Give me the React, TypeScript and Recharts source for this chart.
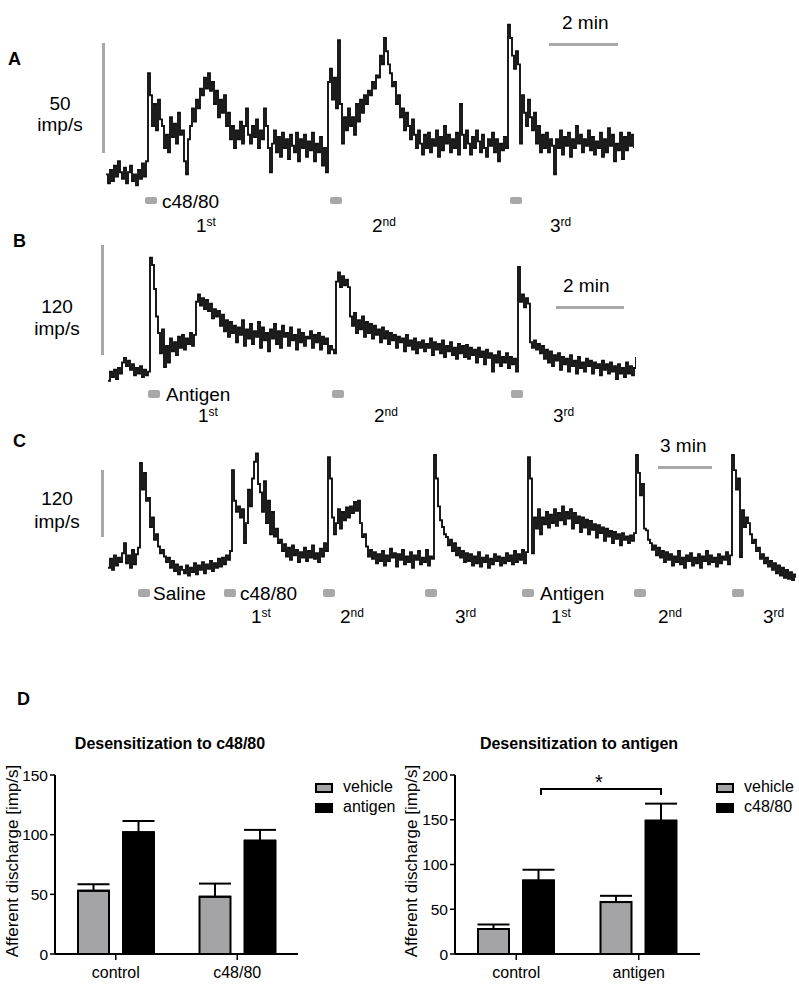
import React from "react";
import { LineChart, Line, BarChart, Bar, ErrorBar, XAxis, YAxis } from "recharts";

// firing-rate traces (imp/s), one bin every 2 px of recording
const traceA = [
  8, 4, 10, 5, 12, 7, 14, 9, 6, 11, 4, 9, 12, 5, 8, 3, 10, 6, 13, 7,
  14, 54, 44, 30, 40, 28, 42, 33, 30, 20, 26, 18, 34, 25, 31, 22, 36, 26, 28, 14,
  8, 24, 30, 38, 32, 42, 38, 47, 44, 52, 47, 54, 46, 50, 40, 46, 34, 42, 36, 44,
  30, 36, 24, 30, 20, 28, 24, 32, 22, 30, 38, 26, 22, 30, 25, 33, 20, 28, 24, 38,
  30, 20, 9, 22, 28, 18, 25, 16, 27, 20, 24, 15, 26, 21, 18, 27, 14, 24, 20, 26,
  16, 23, 19, 27, 14, 22, 18, 25, 12, 20, 9, 50, 56, 42, 52, 38, 69, 40, 22, 34,
  28, 38, 30, 34, 26, 40, 32, 42, 36, 44, 40, 46, 44, 50, 47, 53, 52, 62, 58, 70,
  64, 58, 54, 48, 50, 40, 44, 34, 38, 28, 36, 30, 24, 33, 26, 20, 28, 22, 17, 26,
  20, 27, 18, 24, 21, 28, 16, 25, 19, 30, 22, 26, 18, 24, 20, 27, 17, 40, 26, 20,
  28, 22, 17, 25, 20, 28, 23, 18, 26, 20, 16, 24, 21, 27, 18, 24, 14, 22, 19, 25,
  20, 76, 70, 62, 56, 64, 58, 22, 44, 36, 30, 42, 34, 28, 36, 22, 30, 18, 26, 20,
  27, 18, 24, 21, 8, 24, 20, 28, 17, 25, 21, 27, 16, 24, 20, 30, 22, 26, 18, 24,
  21, 28, 19, 25, 17, 23, 20, 27, 16, 24, 18, 29, 21, 26, 14, 22, 19, 27, 15, 25,
  19, 27, 21, 26, 20,
];

const traceB = [
  10, 20, 14, 22, 12, 24, 18, 30, 35, 26, 32, 22, 28, 16, 24, 18, 26, 14, 22, 16,
  20, 144, 136, 110, 80, 62, 40, 66, 25, 48, 30, 56, 42, 52, 38, 58, 46, 60, 44, 56,
  50, 62, 48, 60, 96, 104, 92, 100, 88, 98, 86, 94, 78, 88, 80, 86, 70, 82, 64, 76,
  58, 74, 62, 70, 52, 68, 60, 76, 48, 66, 56, 72, 50, 64, 58, 74, 46, 68, 54, 62,
  42, 66, 56, 72, 50, 64, 46, 70, 58, 62, 48, 68, 54, 60, 44, 66, 52, 62, 48, 58,
  56, 64, 46, 60, 52, 62, 44, 58, 50, 56, 40, 48, 44, 40, 118, 128, 112, 124, 114, 120,
  112, 80, 70, 84, 62, 76, 66, 80, 58, 74, 62, 72, 56, 70, 60, 66, 52, 68, 56, 64,
  50, 62, 54, 60, 46, 58, 52, 56, 42, 60, 48, 54, 44, 56, 40, 52, 46, 54, 42, 50,
  46, 56, 38, 52, 44, 50, 40, 54, 36, 48, 42, 52, 38, 46, 34, 50, 40, 48, 36, 49,
  34, 46, 38, 44, 30, 46, 36, 42, 28, 44, 35, 40, 20, 38, 30, 42, 26, 36, 30, 40,
  24, 36, 28, 34, 20, 134, 96, 104, 90, 100, 94, 52, 46, 54, 44, 50, 40, 48, 34, 44,
  30, 42, 26, 38, 32, 40, 22, 36, 28, 34, 20, 38, 26, 32, 18, 36, 24, 30, 20, 34,
  26, 32, 18, 30, 24, 28, 16, 32, 22, 28, 18, 30, 20, 26, 12, 28, 18, 24, 14, 30,
  18, 26, 16, 24, 36,
];

const traceC = [
  40, 56, 36, 62, 44, 58, 50, 66, 84, 48, 62, 40, 72, 46, 64, 76, 228, 180, 210, 160,
  165, 113, 130, 90, 100, 78, 66, 72, 60, 50, 58, 40, 52, 34, 46, 28, 42, 36, 30, 44,
  26, 40, 32, 48, 28, 44, 36, 50, 30, 46, 38, 52, 34, 48, 40, 56, 42, 58, 46, 62,
  54, 70, 215, 160, 140, 150, 130, 145, 84, 120, 180, 150, 200, 230, 245, 190, 175, 140, 195, 120,
  160, 100, 140, 96, 110, 84, 90, 70, 82, 60, 76, 54, 80, 62, 72, 50, 68, 58, 76, 52,
  70, 58, 80, 56, 66, 50, 74, 60, 84, 70, 238, 200, 130, 100, 120, 145, 110, 140, 125, 148,
  130, 150, 138, 158, 142, 160, 120, 95, 100, 78, 60, 72, 56, 68, 48, 64, 52, 70, 44, 62,
  52, 74, 58, 66, 42, 64, 54, 72, 46, 60, 50, 68, 40, 62, 54, 70, 46, 58, 50, 72,
  44, 60, 56, 242, 200, 150, 125, 113, 100, 95, 80, 90, 70, 84, 62, 76, 58, 70, 50, 66,
  52, 64, 44, 60, 48, 68, 42, 58, 50, 62, 40, 56, 46, 64, 52, 60, 44, 58, 48, 66,
  52, 62, 46, 70, 50, 64, 54, 72, 48, 68, 238, 200, 66, 130, 110, 145, 100, 130, 118, 140,
  112, 135, 120, 145, 115, 138, 125, 150, 118, 140, 128, 145, 110, 138, 120, 132, 104, 130, 112, 126,
  100, 124, 108, 118, 94, 116, 102, 112, 88, 110, 96, 106, 84, 104, 92, 100, 80, 102, 90, 96,
  84, 98, 88, 102, 242, 210, 170, 190, 110, 107, 90, 84, 72, 80, 62, 76, 58, 70, 50, 68,
  54, 64, 44, 60, 50, 70, 46, 58, 40, 62, 52, 66, 44, 58, 48, 64, 40, 60, 52, 70,
  46, 62, 50, 58, 42, 64, 48, 60, 54, 68, 46, 62, 242, 215, 180, 200, 59, 143, 113, 130,
  120, 100, 84, 90, 70, 76, 56, 64, 48, 58, 42, 52, 36, 48, 30, 44, 26, 40, 22, 36,
  20, 32, 18, 28, 22,
];

// panel D
const groupsC48 = ["control", "c48/80"];
const vehicleC48 = [53, 48];
const vehicleC48Err = [5.5, 11];
const antigenC48 = [102, 95];
const antigenC48Err = [9.5, 9];

const groupsAg = ["control", "antigen"];
const vehicleAg = [28, 58];
const vehicleAgErr = [5, 7];
const c48Ag = [82, 149];
const c48AgErr = [12, 19];

const GRAY = "#a8a8a8";
const BAR_GRAY = "#a4a4a7";
const FONT = "'Liberation Sans', Arial, Helvetica, sans-serif";

function Txt({ x, y, size = 19, bold = false, anchor = "start", children }: any) {
  return (
    <div
      style={{
        position: "absolute",
        left: x,
        top: y - 0.85 * size,
        fontSize: size,
        lineHeight: `${size}px`,
        fontWeight: bold ? "bold" : "normal",
        whiteSpace: "nowrap",
        transform: anchor === "middle" ? "translateX(-50%)" : undefined,
      }}
    >
      {children}
    </div>
  );
}

function Ord({ x, y, n, suf }: any) {
  return (
    <Txt x={x} y={y}>
      {n}
      <span style={{ fontSize: 12, lineHeight: "12px", position: "relative", top: -6 }}>{suf}</span>
    </Txt>
  );
}

function Box({ x, y, w, h, color = GRAY, r = 2 }: any) {
  return (
    <div style={{ position: "absolute", left: x, top: y, width: w, height: h, background: color, borderRadius: r }} />
  );
}

function Trace({ values, left, top, width, height, max }: any) {
  const data = values.map((v: number, i: number) => ({ t: i, v }));
  return (
    <div style={{ position: "absolute", left, top }}>
      <LineChart width={width} height={height} data={data} margin={{ top: 0, right: 0, bottom: 0, left: 0 }}>
        <XAxis dataKey="t" type="number" domain={[0, values.length - 1]} hide />
        <YAxis domain={[0, max]} hide />
        <Line
          type="stepAfter"
          dataKey="v"
          stroke="#111"
          strokeWidth={1.9}
          dot={false}
          isAnimationActive={false}
        />
      </LineChart>
    </div>
  );
}

function Desens({ left, groups, a, aErr, b, bErr, max, ticks, rightMargin }: any) {
  const data = groups.map((g: string, i: number) => ({
    g,
    a: a[i],
    aErr: [0, aErr[i]],
    b: b[i],
    bErr: [0, bErr[i]],
  }));
  return (
    <div style={{ position: "absolute", left, top: 760 }}>
      <BarChart
        width={300}
        height={224}
        data={data}
        margin={{ top: 15, right: rightMargin, bottom: 0, left: 0 }}
        barSize={31}
        barGap={14}
      >
        <XAxis
          dataKey="g"
          height={30}
          interval={0}
          tickSize={6}
          tickMargin={7}
          tick={{ fill: "#000", fontSize: 16 }}
          axisLine={{ stroke: "#000", strokeWidth: 2 }}
          tickLine={{ stroke: "#000", strokeWidth: 1.5 }}
        />
        <YAxis
          width={55}
          domain={[0, max]}
          ticks={ticks}
          tickSize={5}
          tickMargin={2}
          tick={{ fill: "#000", fontSize: 15.5 }}
          axisLine={{ stroke: "#000", strokeWidth: 2 }}
          tickLine={{ stroke: "#000", strokeWidth: 1.5 }}
        />
        <Bar dataKey="a" fill={BAR_GRAY} stroke="#000" strokeWidth={2} isAnimationActive={false}>
          <ErrorBar dataKey="aErr" width={16} stroke="#000" strokeWidth={2} direction="y" />
        </Bar>
        <Bar dataKey="b" fill="#000" stroke="#000" strokeWidth={2} isAnimationActive={false}>
          <ErrorBar dataKey="bErr" width={16} stroke="#000" strokeWidth={2} direction="y" />
        </Bar>
      </BarChart>
    </div>
  );
}

function LegendItem({ x, y, color, label }: any) {
  return (
    <>
      <div
        style={{
          position: "absolute",
          left: x,
          top: y,
          width: 18,
          height: 10,
          background: color,
          border: "2px solid #000",
          boxSizing: "border-box",
        }}
      />
      <Txt x={x + 28} y={y + 10} size={16}>
        {label}
      </Txt>
    </>
  );
}

function YLabel({ cx, cy }: any) {
  return (
    <div
      style={{
        position: "absolute",
        left: cx,
        top: cy,
        fontSize: 17,
        lineHeight: "17px",
        whiteSpace: "nowrap",
        transform: "translate(-50%, -50%) rotate(-90deg)",
      }}
    >
      Afferent discharge [imp/s]
    </div>
  );
}

export default function App() {
  return (
    <div
      style={{
        position: "absolute",
        left: 0,
        top: 0,
        width: 799,
        height: 986,
        background: "#fff",
        overflow: "hidden",
        fontFamily: FONT,
        color: "#000",
      }}
    >
      {/* A */}
      <Txt x={8} y={65} size={18} bold>A</Txt>
      <Box x={102} y={43} w={3} h={110} r={0} />
      <Txt x={60} y={110} anchor="middle">50</Txt>
      <Txt x={60} y={131} anchor="middle">imp/s</Txt>
      <Trace values={traceA} left={106} top={16} width={528} height={176} max={80} />
      <Txt x={562} y={29}>2 min</Txt>
      <Box x={549} y={43} w={69} h={3} r={0} />
      <Box x={145} y={197} w={12} h={7} />
      <Box x={330} y={197} w={12} h={7} />
      <Box x={510} y={197} w={12} h={7} />
      <Txt x={162} y={208}>c48/80</Txt>
      <Ord x={196} y={232} n="1" suf="st" />
      <Ord x={372} y={232} n="2" suf="nd" />
      <Ord x={550} y={232} n="3" suf="rd" />

      {/* B */}
      <Txt x={13} y={247} size={18} bold>B</Txt>
      <Box x={101} y={245} w={3} h={110} r={0} />
      <Txt x={57} y={313} anchor="middle">120</Txt>
      <Txt x={57} y={335} anchor="middle">imp/s</Txt>
      <Trace values={traceB} left={108} top={243} width={528} height={147} max={160} />
      <Txt x={563} y={292}>2 min</Txt>
      <Box x={556} y={306} w={68} h={3} r={0} />
      <Box x={148} y={390} w={12} h={8} />
      <Box x={332} y={390} w={12} h={8} />
      <Box x={511} y={390} w={12} h={8} />
      <Txt x={166} y={401}>Antigen</Txt>
      <Ord x={198} y={422} n="1" suf="st" />
      <Ord x={374} y={422} n="2" suf="nd" />
      <Ord x={553} y={422} n="3" suf="rd" />

      {/* C */}
      <Txt x={13} y={447} size={18} bold>C</Txt>
      <Box x={101} y={470} w={3} h={67} r={0} />
      <Txt x={57} y={505} anchor="middle">120</Txt>
      <Txt x={57} y={528} anchor="middle">imp/s</Txt>
      <Trace values={traceC} left={108} top={445} width={688} height={145} max={260} />
      <Txt x={660} y={452}>3 min</Txt>
      <Box x={658} y={466} w={54} h={3} r={0} />
      <Box x={138} y={589} w={12} h={8} />
      <Box x={224} y={589} w={12} h={8} />
      <Box x={323} y={589} w={12} h={8} />
      <Box x={425} y={589} w={12} h={8} />
      <Box x={522} y={589} w={12} h={8} />
      <Box x={634} y={589} w={12} h={8} />
      <Box x={732} y={589} w={12} h={8} />
      <Txt x={153} y={600}>Saline</Txt>
      <Txt x={240} y={600}>c48/80</Txt>
      <Txt x={540} y={600}>Antigen</Txt>
      <Ord x={251} y={623} n="1" suf="st" />
      <Ord x={340} y={623} n="2" suf="nd" />
      <Ord x={455} y={623} n="3" suf="rd" />
      <Ord x={551} y={623} n="1" suf="st" />
      <Ord x={658} y={623} n="2" suf="nd" />
      <Ord x={763} y={623} n="3" suf="rd" />

      {/* D */}
      <Txt x={17} y={705} size={18} bold>D</Txt>
      <Txt x={170} y={750} size={16} bold anchor="middle">Desensitization to c48/80</Txt>
      <Txt x={579} y={750} size={16} bold anchor="middle">Desensitization to antigen</Txt>
      <YLabel cx={12} cy={861} />
      <YLabel cx={411} cy={861} />
      <Desens
        left={0}
        groups={groupsC48}
        a={vehicleC48}
        aErr={vehicleC48Err}
        b={antigenC48}
        bErr={antigenC48Err}
        max={150}
        ticks={[0, 50, 100, 150]}
        rightMargin={2}
      />
      <Desens
        left={400}
        groups={groupsAg}
        a={vehicleAg}
        aErr={vehicleAgErr}
        b={c48Ag}
        bErr={c48AgErr}
        max={200}
        ticks={[0, 50, 100, 150, 200]}
        rightMargin={0}
      />
      <LegendItem x={315} y={783} color={BAR_GRAY} label="vehicle" />
      <LegendItem x={315} y={803} color="#000" label="antigen" />
      <LegendItem x={716} y={783} color={BAR_GRAY} label="vehicle" />
      <LegendItem x={716} y={803} color="#000" label="c48/80" />

      {/* significance bracket */}
      <svg style={{ position: "absolute", left: 0, top: 0 }} width={799} height={986}>
        <path d="M541 795 V789 H661 V795" fill="none" stroke="#000" strokeWidth={2} />
      </svg>
      <Txt x={599} y={789} size={20} anchor="middle">*</Txt>
    </div>
  );
}
